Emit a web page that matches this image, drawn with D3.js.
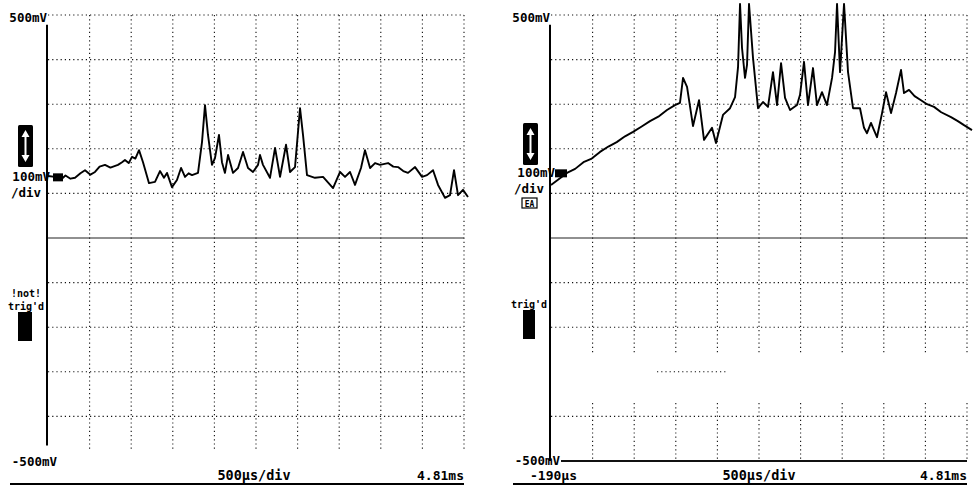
<!DOCTYPE html>
<html><head><meta charset="utf-8">
<script src="https://cdn.jsdelivr.net/npm/d3@7"></script>
<style>body{margin:0;background:#fff}svg{display:block}</style>
</head><body>
<svg id="c" width="974" height="487"></svg>
<script>
// ---- data (time in µs, voltage in mV) ----
const leftTime = [-190,-106,-40,20,80,135,200,255,320,375,430,495,560,651,700,735,780,820,860,904,952,1024,1096,1156,1204,1240,1300,1360,1409,1457,1500,1541,1613,1661,1697,1733,1781,1817,1865,1901,1937,1974,2034,2094,2154,2214,2274,2334,2358,2394,2478,2539,2599,2671,2719,2779,2839,2875,2923,3019,3116,3236,3320,3380,3440,3500,3572,3620,3681,3741,3801,3897,3960,4017,4080,4137,4222,4306,4366,4438,4498,4582,4642,4690,4738,4798,4858];
const leftVolt = [139,137,130,140,133,135,145,152,142,148,160,164,158,164,170,175,168,182,178,197,170,123,126,150,135,146,114,130,157,137,145,141,146,215,298,231,164,179,231,170,146,186,146,157,193,157,148,164,186,164,135,202,137,209,148,159,291,231,141,135,137,112,148,137,148,119,157,197,157,168,164,168,160,159,150,146,159,137,141,152,119,90,96,152,96,108,92];
const rightTime = [-190,2,100,200,300,399,500,600,700,796,900,1000,1100,1204,1300,1360,1397,1445,1517,1589,1649,1745,1793,1877,1962,2022,2058,2082,2106,2142,2166,2190,2238,2298,2358,2418,2478,2527,2575,2623,2683,2767,2803,2851,2899,2959,3007,3067,3127,3188,3224,3248,3284,3332,3380,3440,3524,3572,3608,3656,3692,3728,3789,3837,3897,3957,4017,4053,4113,4180,4257,4330,4414,4500,4618,4700,4774,4870];
const rightVolt = [119,146,155,170,178,193,205,215,228,238,250,262,272,287,298,303,359,339,251,309,220,247,213,276,291,316,383,525,426,359,388,525,404,291,305,294,372,298,392,314,287,298,321,395,298,381,298,327,298,359,417,525,372,525,372,291,291,247,235,258,242,226,280,327,280,325,377,325,332,318,309,300,294,282,271,262,253,242];
const voltTicks = [-500,-400,-300,-200,-100,0,100,200,300,400,500];
const timeTicks = [-190,310,810,1310,1810,2310,2810,3310,3810,4310,4810];
const topLabels = ["500mV","500mV"];
const bottomLabels = ["-500mV","-500mV"];
const scaleLabels = ["100mV","/div"];
const timeLabels = ["-190µs","500µs/div","4.81ms"];
const trigLabels = [["!not!","trig'd"],["trig'd"]];
const markerLevels = [136,145];

const svg = d3.select("#c");
const FONT = "'DejaVu Sans Mono', monospace";
const W = 416, TOP = 15, BOT = 461;

function panel(idx, x0, times, volts) {
  const g = svg.append("g");
  const x = d3.scaleLinear().domain([timeTicks[0], timeTicks[10]]).range([x0, x0 + W]);
  const y = d3.scaleLinear().domain([-500, 500]).range([BOT, TOP]);
  const isRight = idx === 1;
  const dot = s => s.attr("stroke", "#111").attr("stroke-width", 1.1).attr("stroke-dasharray", "1.2,3").attr("fill", "none");

  // vertical dotted grid
  timeTicks.slice(1).forEach(t => {
    const segs = isRight ? [[500, -262], [-370, -500]] : [[500, -475]];
    segs.forEach(s => g.append("line").attr("x1", x(t)).attr("x2", x(t)).attr("y1", y(s[0])).attr("y2", y(s[1])).call(dot));
  });
  // horizontal dotted grid
  voltTicks.forEach(v => {
    if (v === 0) return;
    if (v === -500) return;
    if (isRight && v === -300) {
      g.append("line").attr("x1", x(1084)).attr("x2", x(1938)).attr("y1", y(v)).attr("y2", y(v)).call(dot);
      return;
    }
    g.append("line").attr("x1", x(timeTicks[0])).attr("x2", x(timeTicks[10])).attr("y1", y(v)).attr("y2", y(v)).call(dot);
  });
  // center solid line
  g.append("line").attr("x1", x(timeTicks[0])).attr("x2", x(timeTicks[10])).attr("y1", y(0)).attr("y2", y(0))
    .attr("stroke", "#222").attr("stroke-width", 1.2);
  // bottom solid line (right panel only)
  if (isRight) {
    g.append("line").attr("x1", x(timeTicks[0]) + 10).attr("x2", x(timeTicks[10])).attr("y1", y(-500)).attr("y2", y(-500))
      .attr("stroke", "#111").attr("stroke-width", 1.8);
  }
  // left axis solid line
  const axBottom = isRight ? -500 : -465;
  g.append("line").attr("x1", x0 - 1).attr("x2", x0 - 1).attr("y1", y(478)).attr("y2", y(axBottom))
    .attr("stroke", "#000").attr("stroke-width", 2);

  // trace
  const line = d3.line().x(d => x(d[0])).y(d => y(d[1]));
  g.append("path").datum(times.map((t, i) => [t, volts[i]])).attr("d", line)
    .attr("fill", "none").attr("stroke", "#000").attr("stroke-width", 1.9).attr("stroke-linejoin", "round");

  // level marker
  g.append("rect").attr("x", x0 + (isRight ? 4 : 5)).attr("y", y(markerLevels[idx]) - 4).attr("width", isRight ? 12 : 10).attr("height", 8).attr("fill", "#000");

  // labels
  const txt = (tx, ty, s, size, anchor) => g.append("text").attr("x", tx).attr("y", ty).text(s)
    .attr("font-family", FONT).attr("font-weight", "bold").attr("font-size", size).attr("fill", "#000")
    .attr("text-anchor", anchor || "start");
  const lx = x0 - 37;
  txt(x0 - 1, 22, topLabels[idx], 12.5, "end");
  txt(isRight ? x0 + 4 : x0 + 2, isRight ? 177 : 181, scaleLabels[0], 12.5, "end");
  txt(lx, isRight ? 193 : 197, scaleLabels[1], 12.5);
  // up/down icon
  const iy = isRight ? 123 : 125, ix = isRight ? x0 - 28 : x0 - 30;
  g.append("rect").attr("x", ix).attr("y", iy).attr("width", 15).attr("height", 42).attr("rx", 1.5).attr("fill", "#000");
  const cx = ix + 7.5;
  g.append("line").attr("x1", cx).attr("x2", cx).attr("y1", iy + 9).attr("y2", iy + 33).attr("stroke", "#fff").attr("stroke-width", 2);
  g.append("path").attr("d", `M${cx - 4},${iy + 12}L${cx},${iy + 5}L${cx + 4},${iy + 12}Z M${cx - 4},${iy + 30}L${cx},${iy + 37}L${cx + 4},${iy + 30}Z`).attr("fill", "#fff");
  // EA box
  if (isRight) {
    g.append("rect").attr("x", x0 - 29).attr("y", 198).attr("width", 15).attr("height", 10).attr("fill", "none").attr("stroke", "#000").attr("stroke-width", 1.2);
    txt(x0 - 21.5, 206.5, "EA", 8, "middle");
  }
  // trig'd
  const tl = trigLabels[idx];
  tl.forEach((s, i) => txt(x0 - 22, (isRight ? 308 : 310) - (tl.length - 1 - i) * 13, s, 10, "middle"));
  g.append("rect").attr("x", isRight ? x0 - 28 : x0 - 30).attr("y", isRight ? 310 : 312).attr("width", isRight ? 12 : 14).attr("height", 29).attr("fill", "#000");

  // bottom labels
  txt(x0 + 9, isRight ? 465 : 466, bottomLabels[idx], 12.5, "end");
  if (isRight) txt(x0 - 21, 480, timeLabels[0], 13);
  txt(x(2310) + (isRight ? 0 : -2), 480, timeLabels[1], 13.5, "middle");
  txt(x(timeTicks[10]), 480, timeLabels[2], 13, "end");
  // underline
  g.append("line").attr("x1", x0 - 38).attr("x2", x(timeTicks[10])).attr("y1", 484).attr("y2", 484).attr("stroke", "#000").attr("stroke-width", 2);
}

panel(0, 48, leftTime, leftVolt);
panel(1, 551, rightTime, rightVolt);
</script>
</body></html>
